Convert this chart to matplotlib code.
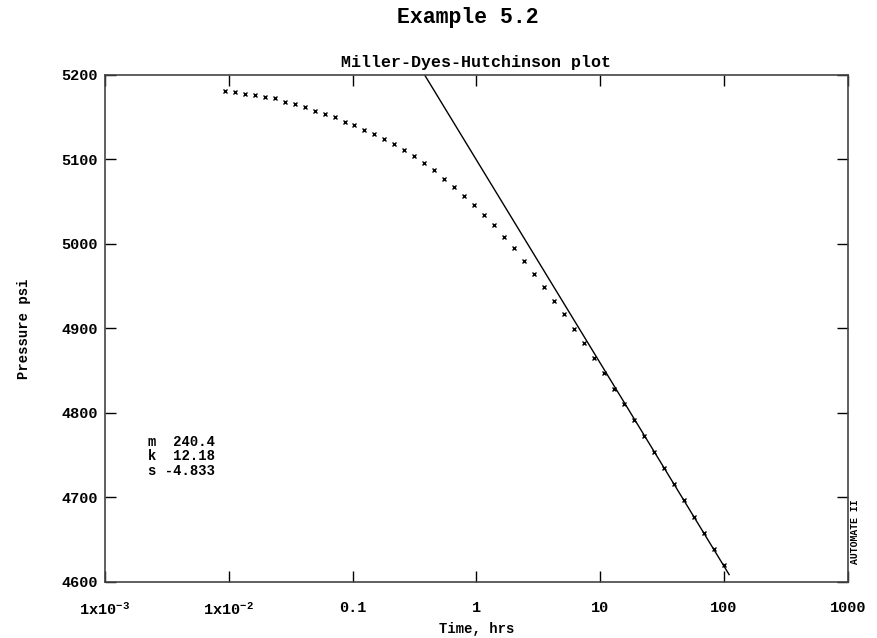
import numpy as np
import matplotlib
matplotlib.use("Agg")
import matplotlib.pyplot as plt

time_hrs = [0.00929, 0.01119, 0.01346, 0.01622, 0.0195, 0.0235, 0.02826, 0.03404,
            0.04102, 0.04932, 0.05943, 0.07145, 0.0861, 0.1035, 0.1247, 0.15,
            0.1807, 0.2178, 0.2618, 0.3155, 0.3793, 0.4571, 0.5495, 0.6622,
            0.798, 0.9594, 1.156, 1.39, 1.675, 2.014, 2.427, 2.924, 3.516,
            4.236, 5.093, 6.138, 7.379, 8.892, 10.72, 12.88, 15.52, 18.66,
            22.49, 27.04, 32.58, 39.26, 47.21, 56.89, 68.39, 82.41, 99.1]
pressure = [5181.4, 5179.5, 5177.5, 5176.3, 5174.3, 5172.4, 5168.4, 5165.7,
            5162.5, 5157.8, 5153.5, 5150.7, 5144.7, 5140.8, 5134.9, 5130.2,
            5124.3, 5118.3, 5111.2, 5104.1, 5095.8, 5087.6, 5076.9, 5067.1,
            5057.2, 5046.2, 5034.3, 5022.5, 5008.6, 4994.9, 4979.9, 4964.5,
            4949.5, 4932.9, 4917.2, 4899.4, 4882.5, 4865.4, 4847.0, 4828.4,
            4810.7, 4791.7, 4772.8, 4754.2, 4734.6, 4716.0, 4697.0, 4677.3,
            4657.6, 4638.7, 4620.1]

# straight line fit: p = p1hr - m*log10(t)
m_slope = 240.4
p1hr = 5099.5
line_t_end = 110.0

x_ticks = [1e-3, 1e-2, 0.1, 1, 10, 100, 1000]
x_ticklabels = [r"1x10$^{-3}$", r"1x10$^{-2}$", "0.1", "1", "10", "100", "1000"]
y_ticks = [4600, 4700, 4800, 4900, 5000, 5100, 5200]

plt.rcParams["font.family"] = ["Liberation Mono", "DejaVu Sans Mono"]
plt.rcParams["font.weight"] = "bold"
plt.rcParams["mathtext.fontset"] = "custom"
plt.rcParams["mathtext.rm"] = "Liberation Mono:bold"
plt.rcParams["mathtext.it"] = "Liberation Mono:bold"
plt.rcParams["mathtext.bf"] = "Liberation Mono:bold"

fig = plt.figure(figsize=(8.77, 6.38), dpi=100)
ax = fig.add_axes([0.1197, 0.0878, 0.847, 0.7947])

# fitted line
t_start = 10 ** ((p1hr - 5200) / m_slope)
t_line = np.array([t_start, line_t_end])
ax.plot(t_line, p1hr - m_slope * np.log10(t_line), color="black", lw=1.0)

# data points
ax.plot(time_hrs, pressure, linestyle="none", marker="x", markersize=3.5,
        markeredgewidth=1.0, color="black")

ax.set_xscale("log")
ax.set_xlim(1e-3, 1e3)
ax.set_ylim(4600, 5200)
ax.set_xticks(x_ticks)
ax.set_xticklabels(x_ticklabels)
ax.set_yticks(y_ticks)
ax.minorticks_off()
ax.tick_params(axis="both", direction="in", length=8, width=1, labelsize=11,
               top=True, right=True)
ax.tick_params(axis="x", pad=14)
ax.tick_params(axis="y", pad=5)
for s in ax.spines.values():
    s.set_linewidth(1.2)
    s.set_color("#444444")

ax.set_xlabel("Time, hrs", fontsize=10, fontweight="bold", labelpad=3)
ax.set_ylabel("Pressure psi", fontsize=10, fontweight="bold", labelpad=22)
ax.set_title("Miller-Dyes-Hutchinson plot", fontsize=12, fontweight="bold", pad=6)
fig.text(468 / 877, 1 - 18 / 638, "Example 5.2", fontsize=15.5, fontweight="bold",
         ha="center", va="center")

ax.text(0.058, 0.29, "m  240.4\nk  12.18\ns -4.833", transform=ax.transAxes,
        fontsize=10, fontweight="bold", va="top", ha="left", linespacing=1.05)

fig.text(855 / 877, 1 - 532 / 638, "AUTOMATE II", rotation=90, fontsize=7,
         fontweight="bold", ha="center", va="center")

fig.savefig("out.png", dpi=100)
